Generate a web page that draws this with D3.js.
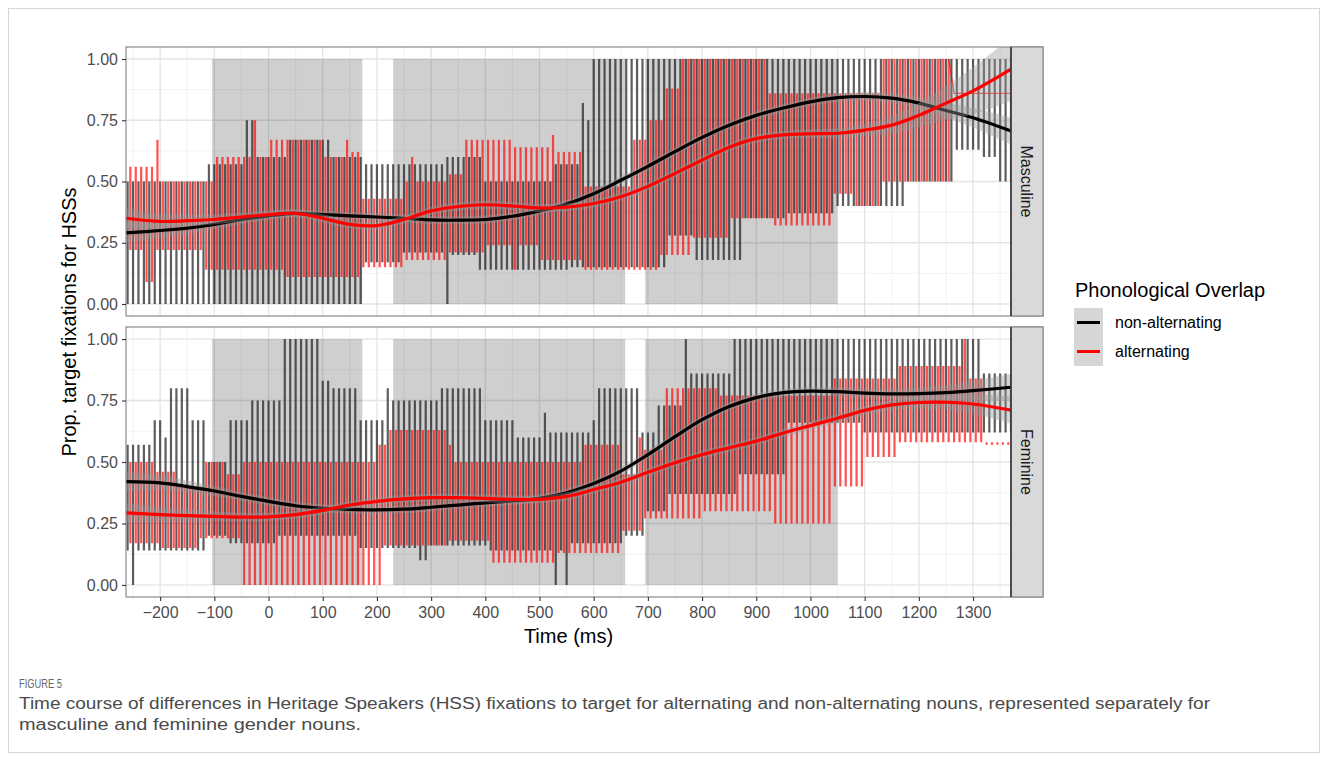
<!DOCTYPE html>
<html><head><meta charset="utf-8">
<script src="https://cdn.jsdelivr.net/npm/d3@7"></script>
<style>
body{margin:0;background:#fff;}
svg{display:block;}
text{font-family:"Liberation Sans",Arial,Helvetica,sans-serif;}
</style>
</head><body>
<svg id="chart" width="1328" height="761"></svg>
<script>
// ---------------- DATA ----------------
const facets = ["Masculine", "Feminine"];
const groups = ["non-alternating", "alternating"];
const xTicks = [-200,-100,0,100,200,300,400,500,600,700,800,900,1000,1100,1200,1300];
const yTicks = [0, 0.25, 0.5, 0.75, 1];
const yTickLabels = ["0.00","0.25","0.50","0.75","1.00"];
// shaded time windows (ms)
const shadeStart = [-104, 230, 695];
const shadeEnd   = [173, 658, 1050];

// raw proportions: per 10 ms bin, runs of [start, end, value] for bin maxima / minima
const mascNonHi = [[-260,-110,0.50],[-110,-40,0.57],[-40,-25,0.75],[-25,40,0.60],[40,120,0.67],[120,175,0.60],[175,330,0.57],[330,400,0.60],[400,530,0.50],[530,580,0.57],[580,590,0.82],[590,600,0.75],[600,1380,1.00]];
const mascNonLo = [[-260,175,0.00],[175,250,0.17],[250,330,0.21],[330,340,0.00],[340,390,0.20],[390,560,0.14],[560,740,0.15],[740,790,0.28],[790,880,0.18],[880,960,0.35],[960,1050,0.37],[1050,1180,0.40],[1180,1270,0.50],[1270,1320,0.63],[1320,1350,0.60],[1350,1380,0.50]];
const mascAltHi = [[-260,-205,0.56],[-205,-195,0.67],[-195,-100,0.50],[-100,-25,0.60],[-25,-15,0.75],[-15,5,0.60],[5,100,0.67],[100,140,0.60],[140,150,0.67],[150,170,0.62],[170,250,0.43],[250,265,0.50],[265,275,0.60],[275,330,0.50],[330,360,0.53],[360,455,0.67],[455,520,0.64],[520,530,0.69],[530,580,0.62],[580,670,0.48],[670,700,0.67],[700,730,0.75],[730,760,0.88],[760,925,1.00],[925,1130,0.86],[1130,1260,1.00],[1260,1380,0.86]];
const mascAltLo = [[-260,-230,0.22],[-230,-210,0.09],[-210,-120,0.22],[-120,30,0.14],[30,170,0.11],[170,250,0.15],[250,335,0.18],[335,400,0.21],[400,450,0.24],[450,460,0.14],[460,500,0.24],[500,580,0.18],[580,720,0.14],[720,780,0.20],[780,850,0.27],[850,930,0.35],[930,1040,0.32],[1040,1080,0.45],[1080,1130,0.40],[1130,1260,0.50],[1260,1380,0.86]];
const femNonHi = [[-260,-210,0.57],[-210,-195,0.67],[-195,-180,0.60],[-180,-145,0.80],[-145,-115,0.67],[-115,-75,0.50],[-75,-30,0.67],[-30,30,0.75],[30,100,1.00],[100,120,0.83],[120,165,0.80],[165,215,0.67],[215,225,0.80],[225,320,0.75],[320,395,0.80],[395,460,0.67],[460,510,0.60],[510,520,0.70],[520,600,0.62],[600,610,0.67],[610,690,0.80],[690,715,0.62],[715,765,0.73],[765,775,1.00],[775,860,0.86],[860,1320,1.00],[1320,1380,0.86]];
const femNonLo = [[-260,-250,0.14],[-250,-240,0.00],[-240,-115,0.14],[-115,-70,0.20],[-70,20,0.17],[20,165,0.20],[165,280,0.15],[280,300,0.10],[300,410,0.16],[410,530,0.14],[530,540,0.00],[540,550,0.14],[550,560,0.00],[560,660,0.17],[660,700,0.20],[700,740,0.30],[740,870,0.37],[870,960,0.45],[960,1100,0.66],[1100,1380,0.62]];
const femAltHi = [[-260,-210,0.50],[-210,-165,0.46],[-165,-115,0.40],[-115,-75,0.50],[-75,-45,0.45],[-45,205,0.50],[205,220,0.57],[220,335,0.63],[335,340,0.57],[340,580,0.50],[580,655,0.57],[655,680,0.45],[680,690,0.60],[690,730,0.55],[730,830,0.80],[830,1040,0.77],[1040,1160,0.84],[1160,1285,0.89],[1285,1295,1.00],[1295,1320,0.84],[1320,1380,0.57]];
const femAltLo = [[-260,-200,0.17],[-200,-130,0.15],[-130,-45,0.19],[-45,215,0.00],[215,335,0.16],[335,415,0.18],[415,530,0.09],[530,650,0.13],[650,690,0.22],[690,800,0.27],[800,930,0.30],[930,1040,0.25],[1040,1100,0.40],[1100,1160,0.52],[1160,1380,0.58]];

// smoothed fits
const smoothT = [-263,-200,-150,-100,-50,0,50,100,150,200,250,300,350,400,450,500,550,600,650,700,750,800,850,900,950,1000,1050,1100,1150,1200,1250,1300,1370];
const mascNonFit = [.29,.30,.31,.325,.345,.36,.37,.365,.36,.355,.35,.343,.342,.345,.358,.38,.408,.45,.505,.562,.622,.68,.73,.77,.80,.825,.842,.847,.84,.82,.79,.76,.706];
const mascAltFit = [.35,.337,.34,.345,.355,.365,.37,.35,.325,.32,.345,.38,.398,.405,.40,.392,.395,.41,.438,.48,.533,.587,.64,.675,.69,.695,.697,.71,.73,.77,.82,.87,.959];
const femNonFit  = [.42,.415,.40,.382,.36,.34,.322,.312,.307,.305,.308,.316,.325,.334,.342,.352,.375,.413,.463,.53,.603,.672,.726,.762,.782,.788,.786,.78,.777,.778,.782,.79,.804];
const femAltFit  = [.293,.286,.282,.279,.276,.277,.286,.303,.325,.34,.35,.355,.355,.352,.348,.348,.36,.388,.418,.458,.497,.53,.558,.585,.618,.648,.678,.71,.732,.742,.743,.736,.711];
const fitSE      = [.04,.03,.025,.02,.018,.017,.016,.016,.016,.016,.016,.016,.016,.016,.016,.016,.016,.016,.016,.016,.016,.016,.016,.016,.016,.016,.017,.018,.02,.025,.03,.04,.055];
const fitSEMascAlt = [.04,.03,.025,.02,.018,.017,.016,.016,.016,.016,.016,.016,.016,.016,.016,.016,.016,.016,.016,.016,.016,.016,.016,.016,.016,.017,.02,.025,.035,.05,.07,.095,.13];

const captionLabel = "FIGURE 5";
const captionLines = ["Time course of differences in Heritage Speakers (HSS) fixations to target for alternating and non-alternating nouns, represented separately for",
                      "masculine and feminine gender nouns."];

// ---------------- CHART ----------------
const svg = d3.select("#chart");
const L = 126, R = 1011, SR = 1043;
const panelBox = [{top:47, bottom:316}, {top:327, bottom:597}];
const x = d3.scaleLinear().domain([-263, 1370]).range([L, R]);
const colors = {"non-alternating":"#000000", "alternating":"#ff0000"};

function lookup(runs, t){ for(const r of runs){ if(t>=r[0] && t<r[1]) return r[2]; } return runs[runs.length-1][2]; }
function bins(hiRuns, loRuns, t0, t1){
  const out=[]; for(let t=t0;t<=t1;t+=10){ out.push({t, hi:lookup(hiRuns,t), lo:lookup(loRuns,t)}); } return out;
}
const series = [
  {facet:0, group:"non-alternating", raw:bins(mascNonHi,mascNonLo,-260,1370), fit:mascNonFit, se:fitSE},
  {facet:0, group:"alternating",     raw:bins(mascAltHi,mascAltLo,-255,1365), fit:mascAltFit, se:fitSEMascAlt},
  {facet:1, group:"non-alternating", raw:bins(femNonHi,femNonLo,-260,1370), fit:femNonFit, se:fitSE},
  {facet:1, group:"alternating",     raw:bins(femAltHi,femAltLo,-255,1365), fit:femAltFit, se:fitSE}
];

// outer frame
svg.append("rect").attr("x",8.5).attr("y",8.5).attr("width",1311).attr("height",744)
  .attr("fill","none").attr("stroke","#d6d6d6").attr("stroke-width",1);

const defs = svg.append("defs");

panelBox.forEach((pb, fi) => {
  const y = d3.scaleLinear().domain([-0.049, 1.049]).range([pb.bottom, pb.top]);
  const g = svg.append("g");
  defs.append("clipPath").attr("id","clip"+fi).append("rect")
    .attr("x",L).attr("y",pb.top).attr("width",R-L).attr("height",pb.bottom-pb.top);

  g.append("rect").attr("x",L).attr("y",pb.top).attr("width",R-L).attr("height",pb.bottom-pb.top).attr("fill","#fff");
  // minor grid
  const xMinor = d3.range(-250, 1400, 100);
  g.selectAll(".vmin").data(xMinor).join("line").attr("x1",d=>x(d)).attr("x2",d=>x(d))
    .attr("y1",pb.top).attr("y2",pb.bottom).attr("stroke","#ececec").attr("stroke-width",0.7);
  g.selectAll(".hmin").data([0.125,0.375,0.625,0.875]).join("line").attr("x1",L).attr("x2",R)
    .attr("y1",d=>y(d)).attr("y2",d=>y(d)).attr("stroke","#ececec").attr("stroke-width",0.7);
  // major grid
  g.selectAll(".vmaj").data(xTicks).join("line").attr("x1",d=>x(d)).attr("x2",d=>x(d))
    .attr("y1",pb.top).attr("y2",pb.bottom).attr("stroke","#e4e4e4").attr("stroke-width",1.3);
  g.selectAll(".hmaj").data(yTicks).join("line").attr("x1",L).attr("x2",R)
    .attr("y1",d=>y(d)).attr("y2",d=>y(d)).attr("stroke","#e4e4e4").attr("stroke-width",1.3);

  const inner = g.append("g").attr("clip-path","url(#clip"+fi+")");
  // shaded windows
  inner.selectAll(".shade").data(shadeStart.map((s,i)=>[s,shadeEnd[i]])).join("rect")
    .attr("x",d=>x(d[0])).attr("width",d=>x(d[1])-x(d[0]))
    .attr("y",y(1)).attr("height",y(0)-y(1)).attr("fill","#000").attr("fill-opacity",0.19);

  // raw combs: each time bin spans the range of trial values (lo..hi)
  const line = d3.line().defined(d=>d!==null).x(d=>x(d[0])).y(d=>y(d[1]));
  series.filter(s=>s.facet===fi).forEach(s=>{
    const pts = s.raw.flatMap(b=> [[b.t,b.lo],[b.t,b.hi],null]);
    inner.append("path").attr("d",line(pts)).attr("fill","none")
      .attr("stroke", s.group==="alternating" ? "#ff0000" : "#1a1a1a")
      .attr("stroke-opacity", s.group==="alternating" ? 0.68 : 0.7)
      .attr("stroke-width",2.2);
  });
  // constant tail of the alternating series (single value bins) drawn as thin line
  series.filter(s=>s.facet===fi && s.group==="alternating").forEach(s=>{
    const tail = s.raw.filter(b=>b.hi===b.lo);
    if (tail.length>1){
      const first = tail[0], prev = s.raw[s.raw.indexOf(first)-1];
      const pts = [[prev.t, prev.hi],[first.t, first.hi]].concat(tail.map(b=>[b.t,b.hi])).concat([[1370, tail[tail.length-1].hi]]);
      inner.append("path").attr("d",d3.line().x(d=>x(d[0])).y(d=>y(d[1]))(pts)).attr("fill","none")
        .attr("stroke","#ff0000").attr("stroke-opacity",0.7).attr("stroke-width",1.3);
    }
  });
  // smooth ribbons and lines
  series.filter(s=>s.facet===fi).forEach(s=>{
    const pts = smoothT.map((t,i)=>({t, v:s.fit[i], se:s.se[i]}));
    const area = d3.area().x(d=>x(d.t)).y0(d=>y(d.v-d.se)).y1(d=>y(d.v+d.se)).curve(d3.curveCatmullRom);
    inner.append("path").attr("d",area(pts)).attr("fill","#999").attr("fill-opacity",0.4);
    const sl = d3.line().x(d=>x(d.t)).y(d=>y(d.v)).curve(d3.curveCatmullRom);
    inner.append("path").attr("d",sl(pts)).attr("fill","none").attr("stroke",colors[s.group]).attr("stroke-width",3.2);
  });

  // panel border
  g.append("rect").attr("x",L).attr("y",pb.top).attr("width",SR-L).attr("height",pb.bottom-pb.top)
    .attr("fill","none").attr("stroke","#8a8a8a").attr("stroke-width",1.2);
  // strip
  g.append("rect").attr("x",R).attr("y",pb.top).attr("width",SR-R).attr("height",pb.bottom-pb.top)
    .attr("fill","#d9d9d9").attr("stroke","#8a8a8a").attr("stroke-width",1.2);
  g.append("line").attr("x1",R).attr("x2",R).attr("y1",pb.top).attr("y2",pb.bottom)
    .attr("stroke","#333").attr("stroke-width",1.6);
  const cy = (pb.top+pb.bottom)/2;
  g.append("text").attr("transform",`translate(${(R+SR)/2},${cy}) rotate(90)`)
    .attr("text-anchor","middle").attr("dy","0.35em").attr("font-size",16).attr("fill","#1a1a1a").text(facets[fi]);

  // y axis
  const ya = g.append("g").attr("transform",`translate(${L},0)`)
    .call(d3.axisLeft(y).tickValues(yTicks).tickFormat((d,i)=>yTickLabels[i]).tickSize(4).tickPadding(4));
  ya.select(".domain").remove();
  ya.selectAll("line").attr("stroke","#333").attr("stroke-width",1.1);
  ya.selectAll("text").attr("font-size",16).attr("fill","#4d4d4d").attr("font-family","Liberation Sans, Arial, sans-serif");

  if (fi===1){
    const xa = g.append("g").attr("transform",`translate(0,${pb.bottom})`)
      .call(d3.axisBottom(x).tickValues(xTicks).tickFormat(d3.format("d")).tickSize(4).tickPadding(6));
    xa.select(".domain").remove();
    xa.selectAll("line").attr("stroke","#333").attr("stroke-width",1.1);
    xa.selectAll("text").attr("font-size",16).attr("fill","#4d4d4d").attr("font-family","Liberation Sans, Arial, sans-serif");
  }
});

// axis titles
svg.append("text").attr("x",(L+R)/2).attr("y",643).attr("text-anchor","middle")
  .attr("font-size",20).attr("fill","#000").text("Time (ms)");
svg.append("text").attr("transform",`translate(76,322) rotate(-90)`).attr("text-anchor","middle")
  .attr("font-size",20).attr("fill","#000").text("Prop. target fixations for HSSs");

// legend
const lg = svg.append("g");
lg.append("text").attr("x",1075).attr("y",297).attr("font-size",20).attr("fill","#000").text("Phonological Overlap");
groups.forEach((gName,i)=>{
  const ky = 308 + i*29;
  lg.append("rect").attr("x",1074).attr("y",ky).attr("width",29).attr("height",29).attr("fill","#d6d6d6");
  lg.append("line").attr("x1",1077).attr("x2",1100).attr("y1",ky+14.5).attr("y2",ky+14.5)
    .attr("stroke",colors[gName]).attr("stroke-width",3);
  lg.append("text").attr("x",1115).attr("y",ky+14.5).attr("dy","0.35em").attr("font-size",16).attr("fill","#000").text(gName);
});

// caption
svg.append("text").attr("x",19).attr("y",688).attr("font-family","Open Sans, sans-serif")
  .attr("font-size",12).attr("fill","#666").attr("textLength",43).attr("lengthAdjust","spacingAndGlyphs").text(captionLabel);
const capW = [1191, 342];
captionLines.forEach((t,i)=>{
  svg.append("text").attr("x",19).attr("y",709+i*21).attr("font-family","Open Sans, sans-serif")
    .attr("font-size",16).attr("fill","#4a4a4a").attr("textLength",capW[i]).attr("lengthAdjust","spacingAndGlyphs").text(t);
});
</script>
</body></html>
